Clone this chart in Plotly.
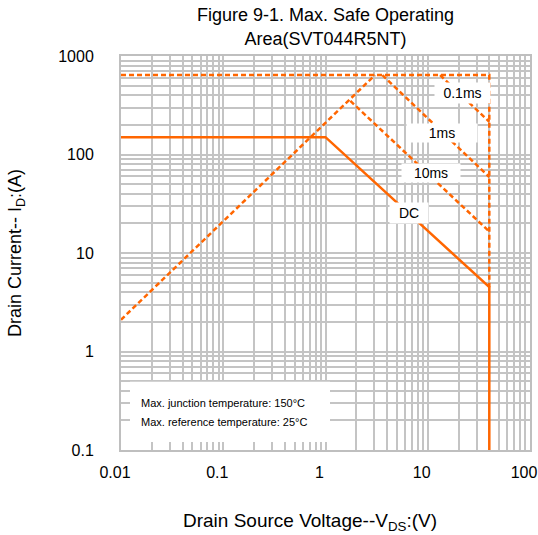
import plotly.graph_objects as go

# Safe operating area boundaries (V_DS in volts, I_D in amps)
rds_v = [0.01, 3.05]
rds_i = [2.1, 640]
pulse_v = [0.01, 40, 40]
pulse_i = [640, 640, 4.5]
t01ms_v = [13.2, 40]
t01ms_i = [640, 215]
t1ms_v = [3.6, 40]
t1ms_i = [640, 59]
t10ms_v = [1.75, 40]
t10ms_i = [350, 16.5]
dc_v = [0.01, 1, 40, 40]
dc_i = [150, 150, 4.5, 0.1]

x_ticks = [0.01, 0.1, 1, 10, 100]
x_ticktext = ["0.01", "0.1", "1", "10", "100"]
y_ticks = [0.1, 1, 10, 100, 1000]
y_ticktext = ["0.1", "1", "10", "100", "1000"]

ORANGE = "#ff6600"
GRID = "#c4c4c4"
FONT = "Liberation Sans, Arial, sans-serif"
DASH = "5px,3px"

fig = go.Figure()
for xs, ys in [(rds_v, rds_i), (pulse_v, pulse_i), (t01ms_v, t01ms_i),
               (t1ms_v, t1ms_i), (t10ms_v, t10ms_i)]:
    fig.add_trace(go.Scatter(x=xs, y=ys, mode="lines",
                             line=dict(color=ORANGE, width=2.5, dash=DASH),
                             showlegend=False, hoverinfo="skip"))
fig.add_trace(go.Scatter(x=dc_v, y=dc_i, mode="lines",
                         line=dict(color=ORANGE, width=2.5),
                         showlegend=False, hoverinfo="skip"))

axis_common = dict(
    type="log", showgrid=True, gridcolor=GRID, gridwidth=1.5,
    showline=True, linecolor="#bfbfbf", linewidth=2, mirror=True,
    ticks="", zeroline=False, automargin=False,
    tickfont=dict(family=FONT, size=16, color="#000"),
    minor=dict(dtick="D1", showgrid=True, gridcolor=GRID, gridwidth=1.5, ticks=""),
)

fig.update_xaxes(**axis_common, range=[-2, 2], tickvals=x_ticks, ticktext=x_ticktext,
                 ticklabelshift=-6, ticklabelstandoff=7)
fig.update_yaxes(**axis_common, range=[-1, 3], tickvals=y_ticks, ticktext=y_ticktext,
                 ticklabelstandoff=22,
                 title=dict(text="Drain Current-- I<sub>D</sub>:(A)",
                            font=dict(family=FONT, size=18, color="#000"), standoff=32))

# X-axis title, placed under the plot
fig.add_annotation(x=0.462, y=-0.183, xref="paper", yref="paper",
                   text="Drain Source Voltage--V<sub>DS</sub>:(V)", showarrow=False,
                   xanchor="center", yanchor="middle",
                   font=dict(family=FONT, size=19, color="#000"))

# Curve labels on white boxes
labels = [("0.1ms", 0.836, 0.906, 55, 20),
          ("1ms", 0.785, 0.805, 70, 18),
          ("10ms", 0.758, 0.703, 58, 18),
          ("DC", 0.704, 0.602, 38, 20)]
for text, x, y, w, h in labels:
    fig.add_annotation(x=x, y=y, xref="paper", yref="paper", text=text,
                       showarrow=False, bgcolor="white", width=w, height=h,
                       xanchor="center", yanchor="middle",
                       borderpad=0, font=dict(family=FONT, size=14, color="#000"))

# Temperature note box
fig.add_shape(type="rect", xref="paper", yref="paper", x0=0.022, x1=0.511,
              y0=0.02, y1=0.173, fillcolor="white", line=dict(width=0), layer="above")
for text, y in [("Max. junction temperature: 150°C", 0.119),
                ("Max. reference temperature: 25°C", 0.071)]:
    fig.add_annotation(x=0.044, y=y, xref="paper", yref="paper", text=text,
                       showarrow=False, xanchor="left", yanchor="middle",
                       font=dict(family=FONT, size=11, color="#000"))

fig.update_layout(
    width=538, height=535,
    margin=dict(l=121, r=8, t=56, b=85),
    paper_bgcolor="white", plot_bgcolor="white",
    title=dict(text="Figure 9-1. Max. Safe Operating<br>Area(SVT044R5NT)",
               x=0.605, xanchor="center", y=0.96, yanchor="top",
               font=dict(family=FONT, size=18, color="#000")),
)

fig.write_html("out.html")
